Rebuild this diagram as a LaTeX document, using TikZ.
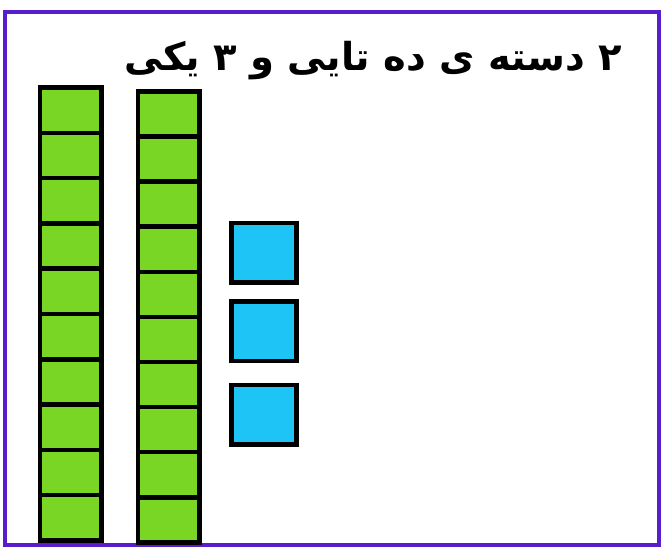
\documentclass[tikz,border=0pt]{standalone}
\usepackage{fontspec}
\TeXXeTstate=1
\newfontfamily\arabicfont[Script=Arabic]{DejaVu Sans}
\definecolor{frame}{RGB}{88,30,205}
\definecolor{tengreen}{RGB}{122,214,36}
\definecolor{oneblue}{RGB}{30,196,246}
\tikzset{
  tencell/.style={draw=black, line width=4.5pt, fill=tengreen, minimum width=61.5pt, minimum height=45.3pt, inner sep=0pt, outer sep=0pt},
  onecell/.style={draw=black, line width=4.5pt, fill=oneblue, minimum width=65pt, minimum height=59.5pt, inner sep=0pt, outer sep=0pt},
  label/.style={font=\arabicfont\bfseries\fontsize{38.5}{42}\selectfont, inner sep=0pt, anchor=base east}
}
\begin{document}
\begin{tikzpicture}[x=1pt,y=-1pt]
\useasboundingbox (0,0) rectangle (662,549);
\fill[white] (0,0) rectangle (662,549);
\draw[frame, line width=4pt] (5,12) rectangle (659,545);
\node[label] (title) at (622,70) {\beginR ۲ دسته ی ده تایی و ۳ یکی\endR};
\foreach \i in {0,...,9} {
  \node[tencell] (a\i) at (70.5, {87.5+45.3*(\i+0.5)}) {};
  \node[tencell] (b\i) at (168.5, {91.5+45.1*(\i+0.5)}) {};
}
\node[onecell] (u1) at (264, 252.5) {};
\node[onecell] (u2) at (264, 331) {};
\node[onecell] (u3) at (264, 414.5) {};
\end{tikzpicture}
\end{document}
